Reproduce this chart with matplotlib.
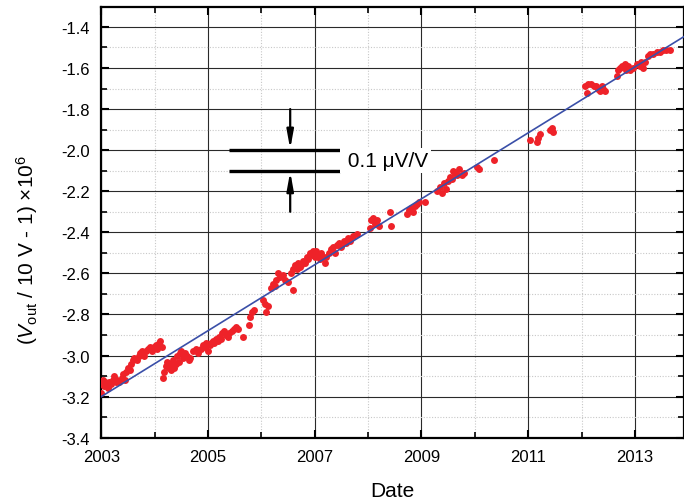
import matplotlib
matplotlib.use("Agg")
import matplotlib.pyplot as plt
from matplotlib.ticker import FixedLocator

plt.rcParams['font.family'] = ['Liberation Sans', 'DejaVu Sans']
plt.rcParams['mathtext.fontset'] = 'custom'
plt.rcParams['mathtext.rm'] = 'Liberation Sans'
plt.rcParams['mathtext.it'] = 'Liberation Sans:italic'

# ---- data (decimal year, (Vout/10V - 1) x 1e6) ----
years_a = [2003.00, 2003.01, 2003.03, 2003.05, 2003.07, 2003.10, 2003.12, 2003.15, 2003.18, 2003.21,
           2003.24, 2003.27, 2003.30, 2003.34, 2003.38, 2003.41, 2003.44, 2003.47, 2003.50, 2003.53,
           2003.56, 2003.60, 2003.62, 2003.66, 2003.70, 2003.73, 2003.77, 2003.80, 2003.84, 2003.88,
           2003.92, 2003.95, 2003.98, 2004.02, 2004.05, 2004.08, 2004.10, 2004.13]
vals_a = [-3.18, -3.14, -3.12, -3.15, -3.13, -3.14, -3.16, -3.13, -3.14, -3.12,
          -3.10, -3.13, -3.12, -3.13, -3.11, -3.09, -3.12, -3.08, -3.06, -3.07,
          -3.04, -3.02, -3.01, -3.02, -3.00, -2.99, -2.98, -3.00, -2.98, -2.97,
          -2.96, -2.98, -2.96, -2.95, -2.97, -2.94, -2.93, -2.96]

years_b = [2004.16, 2004.18, 2004.21, 2004.23, 2004.26, 2004.28, 2004.30, 2004.32, 2004.35, 2004.37,
           2004.40, 2004.42, 2004.45, 2004.48, 2004.50, 2004.53, 2004.56, 2004.60, 2004.64, 2004.67,
           2004.72, 2004.77, 2004.82, 2004.86, 2004.90, 2004.94, 2004.97, 2005.00, 2005.03, 2005.06,
           2005.09, 2005.12, 2005.15, 2005.18, 2005.21, 2005.24, 2005.27, 2005.30, 2005.33, 2005.37,
           2005.40, 2005.44, 2005.48, 2005.52, 2005.56, 2005.66, 2005.76, 2005.79, 2005.83, 2005.87]
vals_b = [-3.11, -3.08, -3.05, -3.03, -3.06, -3.04, -3.07, -3.05, -3.02, -3.06,
          -3.04, -3.00, -3.03, -2.99, -2.98, -3.01, -2.99, -3.00, -3.02, -3.01,
          -2.98, -2.97, -2.99, -2.97, -2.95, -2.96, -2.94, -2.98, -2.95, -2.94,
          -2.93, -2.94, -2.92, -2.93, -2.91, -2.92, -2.89, -2.88, -2.90, -2.91,
          -2.89, -2.88, -2.87, -2.86, -2.87, -2.91, -2.85, -2.81, -2.79, -2.78]

years_c = [2006.03, 2006.06, 2006.09, 2006.12, 2006.18, 2006.21, 2006.25, 2006.28, 2006.31, 2006.35,
           2006.40, 2006.45, 2006.50, 2006.56, 2006.59, 2006.60, 2006.63, 2006.66, 2006.69, 2006.72,
           2006.75, 2006.78, 2006.82, 2006.85, 2006.88, 2006.91, 2006.94, 2006.97, 2007.00, 2007.03,
           2007.06, 2007.09, 2007.12, 2007.15, 2007.19, 2007.22, 2007.26]
vals_c = [-2.73, -2.75, -2.79, -2.76, -2.67, -2.65, -2.66, -2.63, -2.60, -2.62,
          -2.61, -2.63, -2.64, -2.60, -2.58, -2.68, -2.56, -2.58, -2.55, -2.57,
          -2.56, -2.54, -2.55, -2.52, -2.53, -2.50, -2.51, -2.49, -2.52, -2.49,
          -2.51, -2.53, -2.50, -2.52, -2.55, -2.52, -2.50]

years_d = [2007.30, 2007.34, 2007.38, 2007.42, 2007.46, 2007.50, 2007.54, 2007.58, 2007.62, 2007.66,
           2007.72, 2007.80, 2008.03, 2008.06, 2008.10, 2008.13, 2008.17, 2008.20, 2008.41, 2008.43,
           2008.72, 2008.76, 2008.80, 2008.84, 2008.88, 2008.92, 2008.96, 2009.07]
vals_d = [-2.48, -2.47, -2.50, -2.46, -2.45, -2.47, -2.44, -2.45, -2.43, -2.44,
          -2.42, -2.41, -2.38, -2.34, -2.33, -2.36, -2.34, -2.37, -2.30, -2.37,
          -2.31, -2.29, -2.28, -2.30, -2.27, -2.26, -2.25, -2.25]

years_e = [2009.30, 2009.34, 2009.38, 2009.42, 2009.46, 2009.50, 2009.54, 2009.57, 2009.60, 2009.63,
           2009.66, 2009.70, 2009.76, 2009.80, 2010.04, 2010.08, 2010.36]
vals_e = [-2.20, -2.18, -2.21, -2.16, -2.19, -2.15, -2.13, -2.14, -2.10, -2.11,
          -2.12, -2.09, -2.12, -2.11, -2.08, -2.09, -2.05]

years_f = [2011.03, 2011.16, 2011.18, 2011.22, 2011.40, 2011.44, 2011.46]
vals_f = [-1.95, -1.96, -1.94, -1.92, -1.90, -1.89, -1.91]

years_g = [2012.07, 2012.10, 2012.13, 2012.18, 2012.23, 2012.28, 2012.31, 2012.35, 2012.38, 2012.41,
           2012.44, 2012.66, 2012.69, 2012.72, 2012.75, 2012.81, 2012.84, 2012.87, 2012.90, 2012.97,
           2013.03, 2013.09, 2013.12, 2013.16, 2013.19, 2013.25, 2013.28, 2013.34, 2013.41, 2013.47,
           2013.53, 2013.59, 2013.66]
vals_g = [-1.69, -1.72, -1.68, -1.68, -1.69, -1.69, -1.70, -1.71, -1.69, -1.70,
          -1.71, -1.64, -1.61, -1.60, -1.59, -1.58, -1.61, -1.59, -1.61, -1.60,
          -1.58, -1.59, -1.57, -1.60, -1.57, -1.54, -1.53, -1.53, -1.52, -1.52,
          -1.51, -1.51, -1.51]

years = years_a + years_b + years_c + years_d + years_e + years_f + years_g
vals = vals_a + vals_b + vals_c + vals_d + vals_e + vals_f + vals_g

fit_years = [2003.0, 2013.92]
fit_vals = [-3.20, -1.447]

x_ticks = [2003, 2005, 2007, 2009, 2011, 2013]
x_labels = ['2003', '2005', '2007', '2009', '2011', '2013']
y_ticks = [-3.4, -3.2, -3.0, -2.8, -2.6, -2.4, -2.2, -2.0, -1.8, -1.6, -1.4]
y_labels = ['-3.4', '-3.2', '-3.0', '-2.8', '-2.6', '-2.4', '-2.2', '-2.0', '-1.8', '-1.6', '-1.4']

bar_x = [2005.39, 2007.47]
bar_levels = [-2.0, -2.1]
arrow_x = 2006.54
label_text = '0.1 \u03bcV/V'

# ---- figure ----
fig = plt.figure(figsize=(6.84, 5.02), dpi=100)
ax = fig.add_axes([101.3 / 684, (502 - 438.7) / 502, (684 - 101.3) / 684, (438.7 - 8) / 502])

ax.set_xlim(2003, 2013.92)
ax.set_ylim(-3.4, -1.303)

ax.xaxis.set_major_locator(FixedLocator(x_ticks))
ax.set_xticklabels(x_labels)
ax.xaxis.set_minor_locator(FixedLocator([2004, 2006, 2008, 2010, 2012]))
ax.yaxis.set_major_locator(FixedLocator(y_ticks))
ax.set_yticklabels(y_labels)
ax.yaxis.set_minor_locator(FixedLocator([-3.3, -3.1, -2.9, -2.7, -2.5, -2.3, -2.1, -1.9, -1.7, -1.5, -1.3]))

ax.grid(which='major', color='#2a2a2a', linewidth=0.8, linestyle='-')
ax.grid(which='minor', color='#c8c8c8', linewidth=0.8, linestyle=(0, (1, 1.5)))
ax.set_axisbelow(True)

ax.tick_params(which='both', direction='in', top=True, right=True, labelsize=12, colors='black')
ax.tick_params(which='major', length=6, width=1.5)
ax.tick_params(which='minor', length=4, width=1.2)
ax.tick_params(axis='x', pad=8)
ax.tick_params(axis='y', pad=8)
for s in ax.spines.values():
    s.set_linewidth(1.6)

ax.plot(years, vals, 'o', color='#ee2229', markersize=5.0, markeredgewidth=0, zorder=3)
ax.plot(fit_years, fit_vals, '-', color='#3a4fa8', linewidth=1.2, zorder=4)

# annotation: two thick bars with arrows
for lv in bar_levels:
    ax.plot(bar_x, [lv, lv], color='black', linewidth=2.4, solid_capstyle='butt', zorder=5)
ax.annotate('', xy=(arrow_x, bar_levels[0] + 0.005), xytext=(arrow_x, -1.8),
            arrowprops=dict(arrowstyle='-|>,head_length=1.1,head_width=0.2', color='black', lw=1.6,
                            shrinkA=0, shrinkB=0), zorder=5)
ax.annotate('', xy=(arrow_x, bar_levels[1] - 0.005), xytext=(arrow_x, -2.3),
            arrowprops=dict(arrowstyle='-|>,head_length=1.1,head_width=0.2', color='black', lw=1.6,
                            shrinkA=0, shrinkB=0), zorder=5)
ax.text(2007.52, -2.05, ' ' + label_text, fontsize=15, va='center', ha='left',
        bbox=dict(facecolor='white', edgecolor='none', pad=2), zorder=5)

ax.set_xlabel('Date', fontsize=15)
ax.xaxis.set_label_coords(0.5, -0.1)
fig.text(27 / 684, 1 - 250 / 502, r'($\mathit{V}_{\mathrm{out}}$ / 10 V - 1) ' + '\u00d7' + r'10$^{6}$',
         rotation=90, fontsize=15, ha='center', va='center')

fig.savefig('out.png', dpi=100)
